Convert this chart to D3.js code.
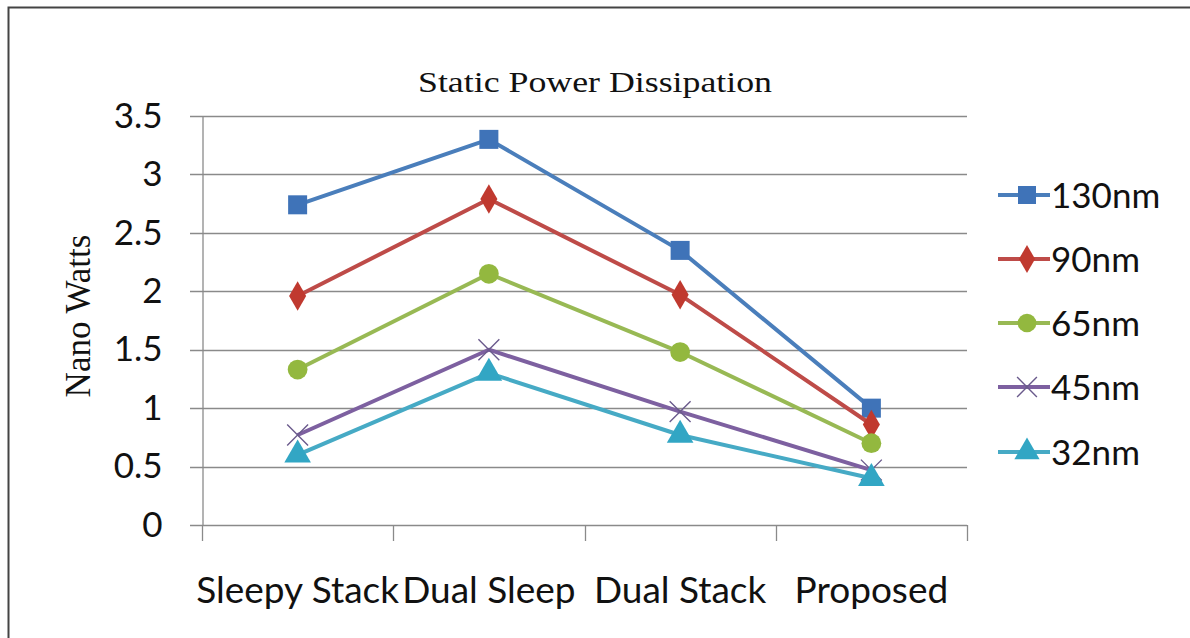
<!DOCTYPE html>
<html>
<head>
<meta charset="utf-8">
<script src="https://cdn.jsdelivr.net/npm/d3@7"></script>
<style>
  html, body { margin: 0; padding: 0; background: #ffffff; }
  svg { display: block; }
</style>
</head>
<body>
<svg id="chart" width="1190" height="638"></svg>
<script>
// Categories along the x axis
const categories = ["Sleepy Stack", "Dual Sleep", "Dual Stack", "Proposed"];

// Static power per technology node (nano watts)
const seriesNames = ["130nm", "90nm", "65nm", "45nm", "32nm"];
const values130 = [2.74, 3.30, 2.35, 1.00];
const values90  = [1.96, 2.79, 1.97, 0.86];
const values65  = [1.33, 2.15, 1.48, 0.70];
const values45  = [0.77, 1.50, 0.97, 0.47];
const values32  = [0.60, 1.30, 0.77, 0.40];

// Y axis tick values and labels
const yTicks = [0, 0.5, 1, 1.5, 2, 2.5, 3, 3.5];
const yTickLabels = ["0", "0.5", "1", "1.5", "2", "2.5", "3", "3.5"];

const seriesValues = [values130, values90, values65, values45, values32];
const lineColors   = ["#4a7ebb", "#be4b48", "#98b954", "#7d60a0", "#46aac5"];
const markerColors = ["#3f73b8", "#c0392f", "#93b83f", "#6a5a8c", "#32a6c4"];
const markerTypes  = ["square", "diamond", "circle", "x", "triangle"];

const sansFont = "Lato, 'Open Sans', sans-serif";
const serifFont = "'Liberation Serif', 'DejaVu Serif', serif";

const svg = d3.select("#chart");

// Outer frame: only the top and left edges fall inside the view
svg.append("path")
  .attr("d", "M8.5,638 V7.5 H1190")
  .attr("fill", "none")
  .attr("stroke", "#444")
  .attr("stroke-width", 2);

const plot = { left: 202, right: 967, top: 116, bottom: 525 };

const x = d3.scaleBand().domain(categories).range([plot.left, plot.right]);
const y = d3.scaleLinear().domain([0, 3.5]).range([plot.bottom, plot.top]);

// Horizontal gridlines
svg.append("g")
  .selectAll("line")
  .data(yTicks)
  .join("line")
  .attr("x1", plot.left - 12)
  .attr("x2", plot.right)
  .attr("y1", d => Math.round(y(d)) + 0.5)
  .attr("y2", d => Math.round(y(d)) + 0.5)
  .attr("stroke", "#8a8a8a")
  .attr("stroke-width", 1.3);

// Y axis
const yAxis = d3.axisLeft(y)
  .tickValues(yTicks)
  .tickFormat((d, i) => yTickLabels[i])
  .tickSize(0)
  .tickPadding(40);
const yAxisG = svg.append("g")
  .attr("transform", `translate(${plot.left + 0.5},0)`)
  .call(yAxis);
yAxisG.select(".domain").attr("stroke", "#8a8a8a").attr("stroke-width", 1.3);
yAxisG.selectAll("text")
  .attr("font-family", sansFont)
  .attr("font-size", 35)
  .attr("fill", "#111");

// X axis tick marks at category boundaries
const boundaries = categories.map(c => x(c)).concat([x(categories[categories.length - 1]) + x.bandwidth()]);
svg.append("g")
  .selectAll("line")
  .data(boundaries)
  .join("line")
  .attr("x1", d => Math.round(d) + 0.5)
  .attr("x2", d => Math.round(d) + 0.5)
  .attr("y1", plot.bottom)
  .attr("y2", plot.bottom + 16)
  .attr("stroke", "#8a8a8a")
  .attr("stroke-width", 1.3);

// Category labels
svg.append("g")
  .selectAll("text")
  .data(categories)
  .join("text")
  .attr("x", d => x(d) + x.bandwidth() / 2)
  .attr("y", 603)
  .attr("text-anchor", "middle")
  .attr("font-family", sansFont)
  .attr("font-size", 37)
  .attr("fill", "#111")
  .text(d => d);

// Title
svg.append("text")
  .attr("x", 418)
  .attr("y", 92)
  .attr("font-family", serifFont)
  .attr("font-size", 29)
  .attr("textLength", 354)
  .attr("lengthAdjust", "spacingAndGlyphs")
  .attr("fill", "#111")
  .text("Static Power Dissipation");

// Y axis title
svg.append("text")
  .attr("transform", "translate(90,316) rotate(-90)")
  .attr("text-anchor", "middle")
  .attr("font-family", serifFont)
  .attr("font-size", 35)
  .attr("fill", "#111")
  .text("Nano Watts");

// Marker drawing helper
function drawMarker(g, type, cx, cy, color, size) {
  const s = size;
  if (type === "square") {
    g.append("rect")
      .attr("x", cx - s / 2).attr("y", cy - s / 2)
      .attr("width", s).attr("height", s)
      .attr("fill", color);
  } else if (type === "diamond") {
    g.append("path")
      .attr("d", d3.symbol(d3.symbolDiamond, s * s * 0.7)())
      .attr("transform", `translate(${cx},${cy})`)
      .attr("fill", color);
  } else if (type === "circle") {
    g.append("circle")
      .attr("cx", cx).attr("cy", cy).attr("r", s * 0.52)
      .attr("fill", color);
  } else if (type === "x") {
    const h = s * 0.55;
    g.append("path")
      .attr("d", `M${cx - h},${cy - h}L${cx + h},${cy + h}M${cx - h},${cy + h}L${cx + h},${cy - h}`)
      .attr("stroke", color)
      .attr("stroke-width", 1.4)
      .attr("fill", "none");
  } else if (type === "triangle") {
    g.append("path")
      .attr("d", d3.symbol(d3.symbolTriangle, s * s * 0.85)())
      .attr("transform", `translate(${cx},${cy})`)
      .attr("fill", color);
  }
}

// Series lines and markers
const line = d3.line()
  .x((d, i) => x(categories[i]) + x.bandwidth() / 2)
  .y(d => y(d));

seriesValues.forEach((vals, si) => {
  const g = svg.append("g");
  g.append("path")
    .datum(vals)
    .attr("d", line)
    .attr("fill", "none")
    .attr("stroke", lineColors[si])
    .attr("stroke-width", 4)
    .attr("stroke-linejoin", "round");
  vals.forEach((v, i) => {
    drawMarker(g, markerTypes[si], x(categories[i]) + x.bandwidth() / 2, y(v), markerColors[si], 19);
  });
});

// Legend
const legendY = [195, 259, 323, 387, 452];
seriesNames.forEach((name, si) => {
  const g = svg.append("g");
  const ly = legendY[si];
  g.append("line")
    .attr("x1", 998).attr("x2", 1050)
    .attr("y1", ly).attr("y2", ly)
    .attr("stroke", lineColors[si])
    .attr("stroke-width", 4);
  drawMarker(g, markerTypes[si], 1027, ly, markerColors[si], 18);
  g.append("text")
    .attr("x", 1051)
    .attr("y", ly + 13)
    .attr("font-family", sansFont)
    .attr("font-size", 35)
    .attr("fill", "#111")
    .text(name);
});
</script>
</body>
</html>
